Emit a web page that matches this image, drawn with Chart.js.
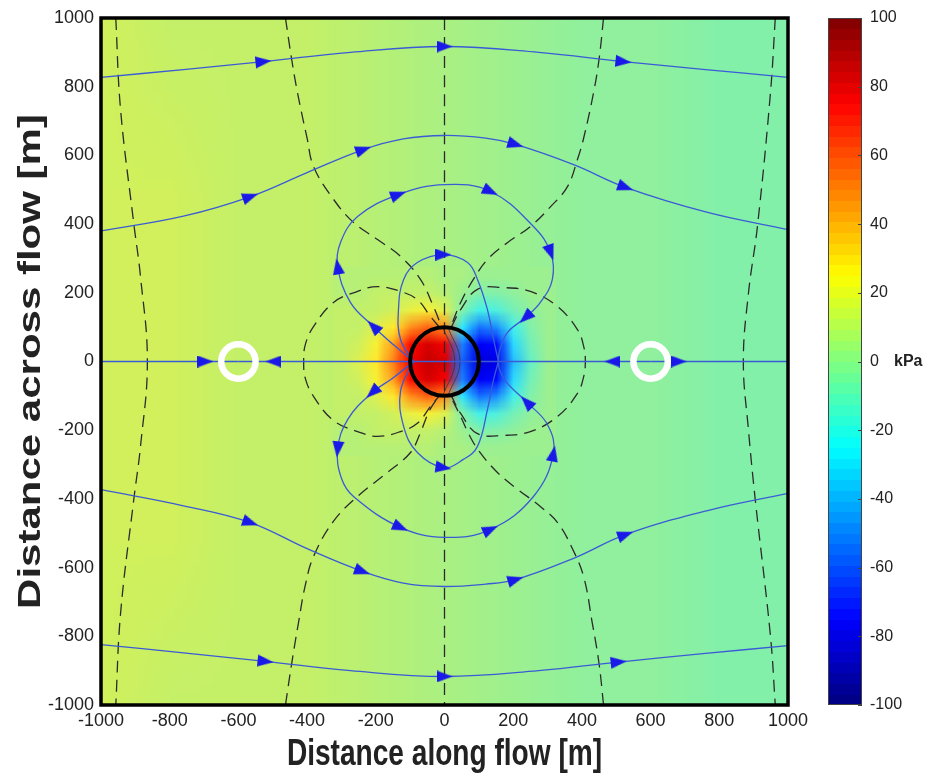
<!DOCTYPE html>
<html>
<head>
<meta charset="utf-8">
<title>Pressure field around the object</title>
<script src="https://cdn.jsdelivr.net/npm/chart.js@4.4.1/dist/chart.umd.min.js"></script>
<style>
  html, body { margin: 0; padding: 0; background: #fff; }
  #wrap { width: 937px; height: 774px; }
</style>
</head>
<body>
<div id="wrap"><canvas id="fieldChart" width="937" height="774"></canvas></div>
<script>
// tick labels
var xTicks = [-1000, -800, -600, -400, -200, 0, 200, 400, 600, 800, 1000];
var yTicks = [-1000, -800, -600, -400, -200, 0, 200, 400, 600, 800, 1000];
var cbTicks = [-100, -80, -60, -40, -20, 0, 20, 40, 60, 80, 100];
var xTitle = 'Distance along flow [m]';
var yTitle = 'Distance across flow [m]';
var cbUnit = 'kPa';

// ambient pressure field, kPa (rows top to bottom)
var ambientX = [-1000, -800, -600, -400, -200, 0, 200, 400, 600, 800, 1000];
var ambientY = [1000, 500, 0, -500, -1000];
var ambientKpa = [
    [13, 12, 11, 9.5, 7.5, 4.5, 1.5, -1, -3, -4.5, -6],
    [13.5, 12.5, 11.5, 10, 8, 5, 2, -0.5, -2.5, -4, -5.5],
    [14, 13, 11.5, 10, 8, 5, 2, -0.5, -2.5, -4, -5],
    [13.5, 12.5, 11.5, 10, 8, 5, 2, -0.5, -2.5, -4, -5.5],
    [13, 12, 11, 9.5, 7.5, 4.5, 1.5, -1, -3, -4.5, -6]
];

// pressure near the object, kPa
var nearX = [-300, -250, -200, -150, -100, -50, 0, 50, 100, 150, 200, 250, 300];
var nearY = [250, 200, 150, 100, 50, 0, -50, -100, -150, -200, -250];
var nearKpa = [
    [9, 8.5, 8.5, 8.5, 8.5, 7.5, 6, 4, 1.5, 0.5, 1, 1, 0.5],
    [9, 9, 9.5, 10.5, 11, 11, 8, 1, -5, -5, -2, 0, 0.5],
    [9.5, 10.5, 12, 15, 20, 22, 16, -6, -20, -18, -9, -1, 0.5],
    [10, 12, 17, 27, 45, 55, 45, -28, -52, -46, -20, -4, 0.5],
    [11, 15, 24, 42, 72, 84, 78, -50, -78, -74, -30, -8, 0],
    [12, 17, 27, 48, 78, 86, 84, -55, -82, -80, -35, -10, 0],
    [11, 15, 24, 42, 72, 84, 78, -50, -78, -74, -30, -8, 0],
    [10, 12, 17, 27, 45, 55, 45, -28, -52, -46, -20, -4, 0.5],
    [9.5, 10.5, 12, 15, 20, 22, 16, -6, -20, -18, -9, -1, 0.5],
    [9, 9, 9.5, 10.5, 11, 11, 8, 1, -5, -5, -2, 0, 0.5],
    [9, 8.5, 8.5, 8.5, 8.5, 7.5, 6, 4, 1.5, 0.5, 1, 1, 0.5]
];

// flow paths [x, y] in m, in flow order; arrow heads at the listed indices
var outerTop = [[-1000, 827], [-760, 850], [-527, 873], [-274, 900], [0, 917], [274, 900], [521, 873], [760, 850], [1000, 827]];
var outerTopArrows = [2, 4, 6];
var outerBottom = [[-1000, -824], [-760, -848], [-521, -873], [-274, -900], [0, -917], [274, -900], [507, -875], [760, -850], [1000, -827]];
var outerBottomArrows = [2, 4, 6];
var midTop = [[-1000, 380], [-760, 423], [-565, 480], [-400, 550], [-236, 617], [-120, 648], [0, 658], [120, 650], [207, 632], [376, 573], [527, 507], [766, 434], [1000, 384]];
var midTopArrows = [2, 4, 8, 10];
var midBottom = [[-1000, -373], [-760, -420], [-565, -469], [-400, -545], [-239, -611], [-120, -645], [0, -655], [120, -648], [207, -635], [376, -573], [527, -504], [766, -434], [1000, -384]];
var midBottomArrows = [2, 4, 8, 10];
var lobeTop = [[-90, 0], [-150, 50], [-207, 102], [-274, 172], [-311, 277], [-303, 346], [-253, 422], [-134, 486], [0, 515], [134, 495], [259, 393], [309, 317], [314, 239], [279, 172], [236, 128], [183, 84], [160, 30], [157, 0]];
var lobeTopArrows = [2, 4, 7, 9, 11, 14];
var lobeBottom = [[-90, 0], [-150, -48], [-210, -90], [-282, -169], [-311, -256], [-300, -340], [-265, -393], [-128, -483], [0, -512], [134, -489], [259, -393], [317, -268], [300, -184], [239, -118], [180, -60], [160, -23], [157, 0]];
var lobeBottomArrows = [2, 4, 7, 9, 11, 13];
var innerTop = [[-90, 0], [-128, 64], [-134, 151], [-119, 239], [-79, 288], [-3, 311], [67, 288], [96, 239], [125, 151], [143, 64], [157, 0]];
var innerTopArrows = [5];
var innerBottom = [[-90, 0], [-128, -86], [-119, -189], [-79, -265], [-3, -309], [55, -285], [96, -247], [125, -140], [143, -52], [157, 0]];
var innerBottomArrows = [4];
var axisLeftIn = [[-1000, 0], [-696, 0], [-600, 0]];
var axisLeftOut = [[-90, 0], [-498, 0], [-600, 0]];
var axisRightIn = [[600, 0], [489, 0], [157, 0]];
var axisRightOut = [[600, 0], [682, 0], [1000, 0]];
var axisCore = [[157, 0], [-90, 0]];

// dashed lines [x, y] in m
var dashCentre = [[0, 1000], [0, -1000]];
var dashFarLeft = [[-957, 1000], [-943, 733], [-905, 405], [-885, 247], [-865, 0], [-885, -247], [-905, -405], [-943, -733], [-957, -1000]];
var dashFarRight = [[963, 1000], [949, 783], [911, 393], [885, 200], [870, 0], [885, -200], [905, -405], [949, -800], [963, -1000]];
var dashUpperLeft = [[-463, 1000], [-445, 880], [-428, 783], [-400, 650], [-381, 567], [-323, 472], [-265, 405], [-195, 355], [-128, 306], [-70, 239], [-32, 160], [-10, 105]];
var dashUpperRight = [[463, 1000], [450, 880], [434, 783], [405, 650], [387, 588], [358, 509], [309, 451], [250, 393], [183, 346], [125, 297], [84, 239], [47, 172], [22, 110]];
var dashLowerLeft = [[-463, -1000], [-445, -880], [-425, -760], [-405, -650], [-381, -567], [-323, -465], [-250, -390], [-166, -323], [-99, -265], [-70, -207], [-45, -145], [-20, -105]];
var dashLowerRight = [[463, -1000], [450, -880], [430, -760], [405, -626], [370, -540], [330, -470], [279, -422], [210, -370], [154, -323], [100, -260], [70, -210], [47, -160], [22, -110]];
var dashRingLeft = [[-15, 100], [-41, 131], [-79, 180], [-128, 204], [-195, 218], [-253, 204], [-323, 172], [-381, 102], [-405, 50], [-410, 0], [-405, -50], [-381, -102], [-323, -172], [-253, -204], [-195, -218], [-128, -204], [-79, -180], [-41, -131], [-15, -100]];
var dashRingRight = [[20, 100], [47, 151], [96, 210], [172, 215], [250, 204], [329, 160], [387, 93], [405, 45], [410, 0], [405, -45], [387, -93], [329, -160], [250, -204], [172, -215], [96, -210], [47, -151], [20, -100]];
var coreLineA = [[10, 100], [45, 0], [10, -100]];
var coreLineB = [[-5, 100], [30, 0], [-5, -100]];

// object and wells: centre x, centre y, radius (m)
var objectCircle = [[0, 0, 100]];
var wellCircles = [[-600, 0, 50], [600, 0, 50]];


var labelFamily = '"Liberation Sans", Arial, sans-serif';

function jet(v) {
    var k = Math.floor((v + 100) / 200 * 64);
    k = Math.max(0, Math.min(63, k));
    var t = (k + 0.5) / 64;
    function c(d) { return Math.round(255 * Math.max(0, Math.min(1, 1.5 - Math.abs(4 * t - d)))); }
    return [c(3), c(2), c(1)];
}

// the field is a little paler than the colour bar where it is green
function fieldColour(v) {
    var c = jet(v);
    var a = 0.18 * c[1] / 255;
    return [
        Math.round(c[0] + (255 - c[0]) * a),
        Math.round(c[1] * 0.94),
        Math.round(c[2] + (255 - c[2]) * a)
    ];
}

function gridImage(xs, ys, vals) {
    var cv = document.createElement('canvas');
    cv.width = xs.length;
    cv.height = ys.length;
    var g = cv.getContext('2d');
    var img = g.createImageData(xs.length, ys.length);
    for (var j = 0; j < ys.length; j++) {
        for (var i = 0; i < xs.length; i++) {
            var col = fieldColour(vals[j][i]);
            var p = (j * xs.length + i) * 4;
            img.data[p] = col[0];
            img.data[p + 1] = col[1];
            img.data[p + 2] = col[2];
            img.data[p + 3] = 255;
        }
    }
    g.putImageData(img, 0, 0);
    return cv;
}

function drawGrid(ctx, xs, ys, vals, sx, sy) {
    var cv = gridImage(xs, ys, vals);
    var hx = (xs[1] - xs[0]) / 2, hy = (ys[0] - ys[1]) / 2;
    var x0 = sx.getPixelForValue(xs[0] - hx), x1 = sx.getPixelForValue(xs[xs.length - 1] + hx);
    var y0 = sy.getPixelForValue(ys[0] + hy), y1 = sy.getPixelForValue(ys[ys.length - 1] - hy);
    ctx.drawImage(cv, x0, y0, x1 - x0, y1 - y0);
}

var fieldPlugin = {
    id: 'field',
    beforeDatasetsDraw: function (chart) {
        var ctx = chart.ctx, a = chart.chartArea;
        ctx.save();
        ctx.beginPath();
        ctx.rect(a.left, a.top, a.right - a.left, a.bottom - a.top);
        ctx.clip();
        ctx.imageSmoothingEnabled = true;
        ctx.imageSmoothingQuality = 'low';
        drawGrid(ctx, ambientX, ambientY, ambientKpa, chart.scales.x, chart.scales.y);
        drawGrid(ctx, nearX, nearY, nearKpa, chart.scales.x, chart.scales.y);
        ctx.restore();
    }
};

var framePlugin = {
    id: 'frame',
    afterDatasetsDraw: function (chart) {
        var ctx = chart.ctx, a = chart.chartArea, cb = chart.scales.cb;
        ctx.save();
        ctx.strokeStyle = '#000';
        ctx.lineWidth = 3.5;
        ctx.strokeRect(a.left, a.top, a.right - a.left, a.bottom - a.top);

        // colour bar
        var left = a.right + 40, w = 34;
        for (var k = 0; k < 64; k++) {
            var v0 = -100 + k * 200 / 64, v1 = v0 + 200 / 64;
            var col = jet(v0 + 1);
            var yTop = cb.getPixelForValue(v1), yBot = cb.getPixelForValue(v0);
            ctx.fillStyle = 'rgb(' + col.join(',') + ')';
            ctx.fillRect(left, Math.floor(yTop), w, Math.ceil(yBot) - Math.floor(yTop));
        }
        ctx.strokeStyle = '#444';
        ctx.lineWidth = 1;
        ctx.strokeRect(left + 0.5, cb.getPixelForValue(100) + 0.5, w - 1, cb.getPixelForValue(-100) - cb.getPixelForValue(100) - 1);
        ctx.beginPath();
        cbTicks.forEach(function (v) {
            var y = Math.round(cb.getPixelForValue(v)) + 0.5;
            ctx.moveTo(left + w - 4, y);
            ctx.lineTo(left + w, y);
        });
        ctx.stroke();

        ctx.fillStyle = '#222';
        ctx.font = 'bold 16px ' + labelFamily;
        ctx.textBaseline = 'middle';
        ctx.fillText(cbUnit, left + w + 32, cb.getPixelForValue(0));

        // axis titles (narrow lettering, as in the figure)
        var sx = chart.scales.x, sy = chart.scales.y;
        ctx.font = 'bold 36px ' + labelFamily;
        ctx.textAlign = 'center';
        ctx.textBaseline = 'alphabetic';
        ctx.save();
        ctx.translate((sx.left + sx.right) / 2, 765);
        ctx.scale(0.78, 1);
        ctx.fillText(xTitle, 0, 0);
        ctx.restore();

        ctx.font = 'bold 42px ' + labelFamily;
        ctx.save();
        ctx.translate(40, (sy.top + sy.bottom) / 2);
        ctx.rotate(-Math.PI / 2);
        ctx.scale(1, 0.75);
        ctx.fillText(yTitle, 0, 0);
        ctx.restore();
        ctx.restore();
    }
};

function toPoints(path) {
    return path.map(function (p) { return { x: p[0], y: p[1] }; });
}

function lineSet(path, color, width, dash) {
    return {
        type: 'scatter',
        data: toPoints(path),
        showLine: true,
        borderColor: color,
        borderWidth: width,
        borderDash: dash || [],
        tension: 0.4,
        pointRadius: 0,
        fill: false
    };
}

function arrowPoints(path, idx) {
    return idx.map(function (i) {
        var a = path[Math.max(i - 1, 0)], b = path[Math.min(i + 1, path.length - 1)];
        return { x: path[i][0], y: path[i][1], rot: Math.atan2(b[0] - a[0], b[1] - a[1]) * 180 / Math.PI };
    });
}

// arrow head glyph, pointing up
var arrowGlyph = document.createElement('canvas');
arrowGlyph.width = 12;
arrowGlyph.height = 16;
(function () {
    var g = arrowGlyph.getContext('2d');
    g.fillStyle = '#1a1ae8';
    g.beginPath();
    g.moveTo(6, 0);
    g.lineTo(12, 16);
    g.lineTo(0, 16);
    g.closePath();
    g.fill();
})();

function circleSet(list, color, width) {
    return {
        type: 'scatter',
        data: list.map(function (c) { return { x: c[0], y: c[1], r: c[2] }; }),
        pointStyle: 'circle',
        backgroundColor: 'rgba(0,0,0,0)',
        borderColor: color,
        pointBorderWidth: width,
        pointRadius: function (ctx) {
            var s = ctx.chart.scales.x;
            return Math.abs(s.getPixelForValue(ctx.raw.r) - s.getPixelForValue(0));
        },
        clip: false
    };
}

var blue = '#3a5bd6';
var dashColor = '#2b2b2b';
var dash = [12, 7];

var flowPaths = [
    [outerTop, outerTopArrows], [outerBottom, outerBottomArrows],
    [midTop, midTopArrows], [midBottom, midBottomArrows],
    [lobeTop, lobeTopArrows], [lobeBottom, lobeBottomArrows],
    [innerTop, innerTopArrows], [innerBottom, innerBottomArrows],
    [axisLeftIn, [1]], [axisLeftOut, [1]], [axisRightIn, [1]], [axisRightOut, [1]], [axisCore, []]
];

var arrows = [];
flowPaths.forEach(function (f) { arrows = arrows.concat(arrowPoints(f[0], f[1])); });

var datasets = [
    circleSet(wellCircles, '#ffffff', 6.5),
    circleSet(objectCircle, '#000000', 4),
    {
        type: 'scatter',
        data: arrows,
        pointStyle: arrowGlyph,
        pointRotation: function (ctx) { return ctx.raw ? ctx.raw.rot : 0; },
        pointRadius: 8
    }
];
flowPaths.forEach(function (f) { datasets.push(lineSet(f[0], blue, 1.3)); });
[dashCentre, dashFarLeft, dashFarRight, dashUpperLeft, dashUpperRight, dashLowerLeft, dashLowerRight, dashRingLeft, dashRingRight].forEach(function (p) {
    datasets.push(lineSet(p, dashColor, 1.3, dash));
});
[coreLineA, coreLineB].forEach(function (p) { datasets.push(lineSet(p, '#333', 0.8)); });

function fixedTicks(list) {
    return function (scale) { scale.ticks = list.map(function (v) { return { value: v }; }); };
}

function fitTo(size) {
    return function (s) {
        if (s.isHorizontal()) {
            s.height = size;
            s.paddingLeft = 0;
            s.paddingRight = 0;
        } else {
            s.width = size;
            s.paddingTop = 0;
            s.paddingBottom = 0;
        }
    };
}

new Chart(document.getElementById('fieldChart'), {
    type: 'scatter',
    data: { datasets: datasets },
    plugins: [fieldPlugin, framePlugin],
    options: {
        responsive: false,
        animation: false,
        devicePixelRatio: 1,
        events: [],
        layout: { padding: { top: 18, left: 0, right: 0, bottom: 0 } },
        plugins: { legend: { display: false }, tooltip: { enabled: false } },
        scales: {
            x: {
                type: 'linear',
                min: -1000,
                max: 1000,
                afterBuildTicks: fixedTicks(xTicks),
                afterFit: fitTo(69),
                grid: { display: false, drawTicks: false },
                border: { display: false },
                ticks: {
                    color: '#222',
                    padding: 5,
                    autoSkip: false,
                    maxRotation: 0,
                    font: { family: labelFamily, size: 18 },
                    callback: function (v) { return String(v); }
                }
            },
            y: {
                type: 'linear',
                min: -1000,
                max: 1000,
                afterBuildTicks: fixedTicks(yTicks),
                afterFit: fitTo(101),
                grid: { display: false, drawTicks: false },
                border: { display: false },
                ticks: {
                    color: '#222',
                    padding: 7,
                    autoSkip: false,
                    font: { family: labelFamily, size: 18 },
                    callback: function (v) { return String(v); }
                }
            },
            cb: {
                type: 'linear',
                position: 'right',
                min: -100,
                max: 100,
                afterBuildTicks: fixedTicks(cbTicks),
                afterFit: fitTo(149),
                grid: { display: false, drawTicks: false },
                border: { display: false },
                ticks: {
                    color: '#222',
                    padding: 82,
                    autoSkip: false,
                    font: { family: labelFamily, size: 16 },
                    callback: function (v) { return String(v); }
                }
            }
        }
    }
});
</script>
</body>
</html>
